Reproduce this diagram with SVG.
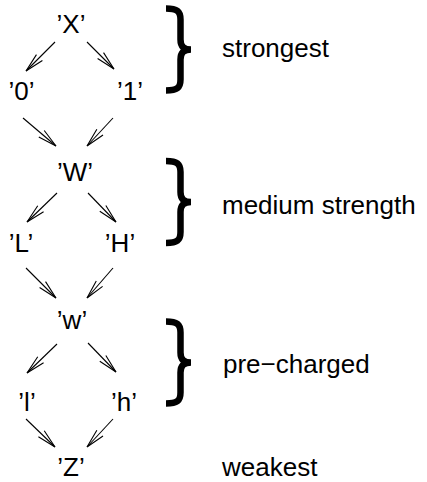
<svg xmlns="http://www.w3.org/2000/svg" width="427" height="482" viewBox="0 0 427 482">
<style>
text{font-family:"Liberation Sans",Arial,Helvetica,sans-serif;font-size:26px;fill:#000}
.n{text-anchor:middle}
.e{stroke:#000;stroke-width:1.1;fill:none;marker-end:url(#ah)}
.b{stroke:#000;stroke-width:6.5;fill:none}
</style>
<defs>
<marker id="ah" markerUnits="userSpaceOnUse" markerWidth="24" markerHeight="12" refX="0" refY="0" viewBox="-20 -6 22 12" orient="auto" overflow="visible">
<path d="M0,0 L-19,-4.2 M0,0 L-19,4.2" stroke="#000" stroke-width="1.1" fill="none"/>
</marker>
<path id="brace" d="M166,-41 C177,-41 180.5,-38.5 180.5,-30 L180.5,-10 C180.5,-3 184,0 191,0 C184,0 180.5,3 180.5,10 L180.5,30 C180.5,38.5 177,41 166,41"/>
</defs>
<g id="edges">
<line class="e" x1="55" y1="42" x2="26" y2="71"/>
<line class="e" x1="87" y1="42" x2="114" y2="69"/>
<line class="e" x1="23" y1="118" x2="56" y2="146"/>
<line class="e" x1="113" y1="118" x2="87" y2="146"/>
<line class="e" x1="57" y1="193" x2="27" y2="222"/>
<line class="e" x1="88" y1="193" x2="116" y2="222"/>
<line class="e" x1="26" y1="268" x2="56" y2="298"/>
<line class="e" x1="113" y1="268" x2="87" y2="298"/>
<line class="e" x1="57" y1="344" x2="27" y2="373"/>
<line class="e" x1="88" y1="343" x2="116" y2="372"/>
<line class="e" x1="26" y1="419" x2="55" y2="447"/>
<line class="e" x1="113" y1="419" x2="87" y2="447"/>
</g>
<g id="node-X"><text class="n" x="71" y="33">’X’</text></g>
<g id="node-0"><text class="n" x="21.5" y="100">’0’</text></g>
<g id="node-1"><text class="n" x="130" y="100">’1’</text></g>
<g id="node-W"><text class="n" x="75" y="181">’W’</text></g>
<g id="node-L"><text class="n" x="21" y="252">’L’</text></g>
<g id="node-H"><text class="n" x="120" y="252">’H’</text></g>
<g id="node-w"><text class="n" x="72" y="329">’w’</text></g>
<g id="node-l"><text class="n" x="27" y="411">’l’</text></g>
<g id="node-h"><text class="n" x="124" y="411">’h’</text></g>
<g id="node-Z"><text class="n" x="71" y="476">’Z’</text></g>
<g id="braces">
<use href="#brace" class="b" transform="translate(0,49.5)"/>
<use href="#brace" class="b" transform="translate(0,202)"/>
<use href="#brace" class="b" transform="translate(0,362.5)"/>
</g>
<g id="labels">
<text x="222" y="57">strongest</text>
<text x="222" y="214">medium strength</text>
<text x="223" y="373">pre−charged</text>
<text x="222" y="476">weakest</text>
</g>
</svg>
